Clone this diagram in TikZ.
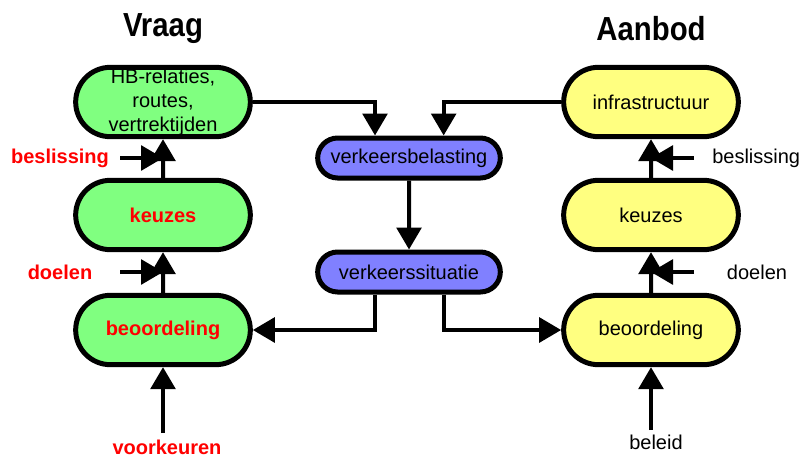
\documentclass[tikz,border=0pt]{standalone}
\usepackage{fontspec}
\setmainfont{Liberation Sans}
\usetikzlibrary{shapes.misc,arrows.meta}

\begin{document}
\begin{tikzpicture}[x=0.75pt,y=-0.75pt,
  box/.style={rounded rectangle,draw,line width=3.75pt,minimum width=131pt,
    minimum height=52pt,inner sep=0pt,align=center,font=\fontsize{15}{18}\selectfont},
  midbox/.style={box,minimum width=137pt,minimum height=30pt},
  redtxt/.style={text=red,font=\fontsize{15}{18}\selectfont\bfseries},
  sidelbl/.style={font=\fontsize{15}{18}\selectfont},
  title/.style={font=\fontsize{25}{30}\selectfont\bfseries,xscale=0.88,transform shape},
  arr/.style={line width=3pt,-{Triangle[length=16.5pt,width=18.5pt]}}]
\definecolor{vraaggreen}{HTML}{80FF80}
\definecolor{aanbodyellow}{HTML}{FFFF80}
\definecolor{verkeerblue}{HTML}{8080FF}
\useasboundingbox (0,0) rectangle (801,458);

\node[title] (vraag) at (163,29) {Vraag};
\node[title] (aanbod) at (651,29) {Aanbod};

% vraag
\node[box,fill=vraaggreen] (hb) at (163,102) {HB-relaties,\\routes,\\vertrektijden};
\node[box,fill=vraaggreen,redtxt] (vkeuzes) at (163,215) {keuzes};
\node[box,fill=vraaggreen,redtxt] (vbeoord) at (163,330) {beoordeling};

% aanbod
\node[box,fill=aanbodyellow] (infra) at (651,102) {infrastructuur};
\node[box,fill=aanbodyellow] (akeuzes) at (651,215) {keuzes};
\node[box,fill=aanbodyellow] (abeoord) at (651,330) {beoordeling};

% verkeer
\node[midbox,fill=verkeerblue] (belasting) at (409,158) {verkeersbelasting};
\node[midbox,fill=verkeerblue] (situatie) at (409,272) {verkeerssituatie};

\draw[arr] (vbeoord) -- (vkeuzes);
\draw[arr] (vkeuzes) -- (hb);
\draw[arr] (abeoord) -- (akeuzes);
\draw[arr] (akeuzes) -- (infra);

\draw[arr] (hb.east) -| ([xshift=-25.5pt]belasting.north);
\draw[arr] (infra.west) -| ([xshift=26pt]belasting.north);
\draw[arr] (belasting) -- (situatie);
\draw[arr] ([xshift=-25.5pt]situatie.south) |- (vbeoord.east);
\draw[arr] ([xshift=26pt]situatie.south) |- (abeoord.west);

% invoer links
\foreach \nm/\txt/\y in {vbesl/beslissing/158,vdoel/doelen/272}
{ \node[redtxt] (\nm) at (60,\y) {\txt};
  \coordinate (\nm in) at (120,\y);
  \draw[arr] (\nm in) -- (\nm in -| hb.south);}
\node[redtxt] (voorkeur) at (167,447) {voorkeuren};
\coordinate (voorkeurin) at (163,433);
\draw[arr] (voorkeurin) -- (vbeoord.south);

% invoer rechts
\node[sidelbl,anchor=west,inner sep=0pt] (abesl) at (712,158) {beslissing};
\node[sidelbl] (adoel) at (757,272) {doelen};
\foreach \nm/\y in {abesl/158,adoel/272}
{ \coordinate (\nm in) at (694,\y);
  \draw[arr] (\nm in) -- (\nm in -| infra.south);}
\node[sidelbl] (beleid) at (656,442) {beleid};
\coordinate (beleidin) at (651,430);
\draw[arr] (beleidin) -- (abeoord.south);
\end{tikzpicture}
\end{document}
